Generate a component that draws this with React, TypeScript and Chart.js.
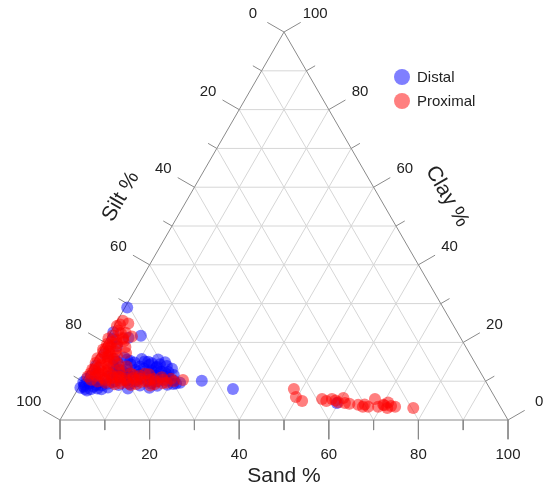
import React, { useEffect, useRef } from "react";
import { Chart, registerables } from "chart.js";
Chart.register(...registerables);

// Ternary composition data: silt % = 100 - sand % - clay %
const seriesNames = ["Distal", "Proximal"];
const seriesColors = ["rgba(0,0,255,0.5)", "rgba(255,0,0,0.5)"];

const distalSand = [
  0.5, 0.6, 4.7, 7.2, 1.3, 3.2,
  0.9, 1.6, 2.6, 0.6, 3.2, 2.2, 4.3, 1.2, 3.9, 5.3, 0.4,
  1.9, 0.3, 2.9, 3.6, 1.0, 4.8,
  4.2, 6.3, 8.1, 10.4, 12.2, 14.1, 16.0,
  4.8, 6.6, 8.7, 10.9, 12.8, 14.7, 16.9, 18.4,
  5.6, 7.4, 9.6, 11.5, 13.6, 15.4, 17.6,
  5.0, 7.9, 10.0, 12.6, 14.4, 16.2, 18.7, 20.3,
  6.1, 8.6, 10.9, 13.4, 15.6, 17.3, 19.4, 21.2,
  5.2, 7.2, 9.2, 11.4, 13.2, 15.1,
  6.0, 8.2, 10.4, 12.1, 14.0, 16.3, 18.0,
  6.8, 9.0, 11.8, 13.9, 15.7, 17.4, 19.6,
  7.3, 9.8, 12.0, 14.5, 16.8, 18.9, 20.6, 22.0,
  6.5, 11.1, 15.8, 14.8, 26.6, 34.6, 59.6, 1.0, 2.0, 1.5,
];
const distalClay = [
  29.0, 22.6, 21.2, 21.7, 20.9, 19.0,
  9.1, 8.0, 9.9, 10.6, 8.6, 7.6, 8.1, 11.4, 9.7, 7.9, 8.3,
  9.4, 9.8, 7.9, 9.0, 8.6, 8.9,
  15.8, 16.1, 15.2, 15.7, 15.0, 15.6, 14.9,
  14.1, 13.6, 14.3, 13.8, 14.2, 13.5, 13.9, 13.2,
  12.4, 12.8, 12.1, 12.6, 12.3, 12.7, 12.0,
  11.2, 10.9, 11.3, 10.8, 11.1, 10.7, 11.0, 10.2,
  9.4, 9.0, 9.3, 8.9, 9.4, 8.8, 9.1, 9.4,
  15.0, 15.6, 14.8, 15.1, 14.6, 14.4,
  13.0, 13.1, 12.9, 13.3, 12.8, 12.5, 12.4,
  11.6, 11.9, 11.7, 11.6, 11.5, 11.4, 11.6,
  10.0, 10.2, 9.9, 10.1, 9.9, 10.1, 9.3, 9.6,
  8.4, 8.1, 8.3, 13.7, 10.1, 8.0, 4.4, 14.0, 12.0, 17.0,
];

const proximalSand = [
  1.2, 0.6, 2.8, 1.5, 3.4, 0.9, 2.2, 4.1, 0.7, 1.8, 3.3, 5.2, 0.9, 2.6, 4.4,
  6.1, 1.4, 3.0, 4.9, 0.6, 2.1, 3.8, 5.9, 1.1, 2.9, 4.6, 6.8, 0.8, 2.3, 3.9,
  5.6, 7.5, 9.2, 1.7, 3.4, 5.1, 6.9, 8.4, 10.3, 11.8, 13.2, 14.9, 16.4, 18.1,
  12.1, 14.0, 9.8, 6.2, 4.2, 2.4, 1.0, 3.6, 7.6, 11.3, 15.7, 22.3, 17.2, 19.5,
  5.3, 8.0,
  0.3, 1.6, 2.9, 0.5, 2.0, 3.6, 1.2, 2.7, 3.9, 0.4, 1.9, 3.2, 0.7, 2.5, 4.0,
  1.4, 3.0, 0.6, 1.3, 2.4, 3.5, 1.1,
  4.6, 6.5, 8.0, 9.5, 11.0, 12.7, 14.3, 15.6, 17.8, 19.0, 20.4, 13.0, 10.6,
  7.2, 5.4, 8.9, 12.4, 16.5,
  48.2, 49.7, 51.6, 55.8, 57.0, 58.0, 59.8, 60.4, 61.4, 64.6, 65.9, 67.1,
  67.6, 69.3, 70.2, 71.5, 72.1, 73.1, 77.3, 59.0, 62.5, 66.0, 70.5, 71.0,
];
const proximalClay = [
  25.6, 24.2, 24.9, 23.1, 22.5, 21.8, 20.7, 20.2, 19.6, 18.9, 18.4, 18.8, 17.5, 17.1, 16.6,
  17.3, 16.0, 15.4, 15.0, 14.7, 14.2, 13.8, 14.4, 13.2, 12.6, 12.3, 12.9, 12.0, 11.4, 11.0,
  11.6, 11.2, 10.7, 10.4, 9.9, 10.2, 9.7, 10.1, 9.6, 10.3, 9.8, 10.4, 9.9, 9.5,
  11.4, 11.8, 12.0, 10.8, 13.2, 16.5, 18.4, 20.9, 9.2, 9.0, 8.9, 10.3, 11.0, 10.6,
  21.5, 13.8,
  21.0, 20.1, 19.7, 18.2, 17.8, 17.6, 15.5, 16.2, 15.8, 15.9, 13.5, 14.5, 13.0, 12.1, 12.6,
  12.8, 11.8, 11.2, 19.2, 22.4, 21.2, 24.6,
  10.6, 10.9, 11.0, 10.2, 10.8, 10.6, 9.9, 10.6, 10.4, 9.6, 10.0, 11.9, 11.6,
  12.2, 9.6, 9.4, 9.3, 9.2,
  8.0, 5.9, 4.9, 5.4, 4.9, 5.4, 4.6, 5.7, 4.4, 3.9, 3.4, 3.4,
  5.4, 3.4, 3.9, 3.1, 3.6, 3.4, 3.1, 5.0, 4.2, 4.0, 3.8, 4.5,
];

const gridSteps = [10, 20, 30, 40, 50, 60, 70, 80, 90];
const tickSteps = [0, 10, 20, 30, 40, 50, 60, 70, 80, 90, 100];
const labelValues = [0, 20, 40, 60, 80, 100];
const axisTitles = ["Sand %", "Silt %", "Clay %"];

const H = Math.sqrt(3) / 2;
const toXY = (sand: number, clay: number) => ({ x: sand + clay / 2, y: clay * H });

const FONT = "'Liberation Sans', Arial, Helvetica, sans-serif";

function seg(a: { x: number; y: number }, b: { x: number; y: number }, color: string, order: number) {
  return {
    type: "scatter" as const,
    data: [a, b],
    showLine: true,
    pointRadius: 0,
    pointHoverRadius: 0,
    borderColor: color,
    borderWidth: 1,
    fill: false,
    order,
  };
}

export default function App() {
  const ref = useRef<HTMLCanvasElement | null>(null);
  useEffect(() => {
    if (!ref.current) return;
    const datasets: any[] = [];
    const gridColor = "#d6d6d6";
    const tickColor = "#8a8a8a";
    gridSteps.forEach((k) => {
      datasets.push(seg(toXY(0, k), toXY(100 - k, k), gridColor, 10));
      datasets.push(seg(toXY(k, 0), toXY(k, 100 - k), gridColor, 10));
      datasets.push(seg(toXY(100 - k, 0), toXY(0, 100 - k), gridColor, 10));
    });
    datasets.push(seg(toXY(0, 0), toXY(100, 0), tickColor, 5));
    datasets.push(seg(toXY(100, 0), toXY(0, 100), tickColor, 5));
    datasets.push(seg(toXY(0, 100), toXY(0, 0), tickColor, 5));
    const major = 4.3;
    const minor = 2.25;
    tickSteps.forEach((v) => {
      const L = v % 20 === 0 ? major : minor;
      const b = toXY(v, 0);
      datasets.push(seg(b, { x: b.x, y: b.y - L }, tickColor, 5));
      const l = toXY(0, 100 - v);
      datasets.push(seg(l, { x: l.x - L * H, y: l.y + L * 0.5 }, tickColor, 5));
      const r = toXY(100 - v, v);
      datasets.push(seg(r, { x: r.x + L * H, y: r.y + L * 0.5 }, tickColor, 5));
    });
    datasets.push({
      label: seriesNames[1],
      data: proximalSand.map((s, i) => toXY(s, proximalClay[i])),
      backgroundColor: seriesColors[1],
      borderWidth: 0,
      pointRadius: 6,
      order: 1,
    });
    datasets.push({
      label: seriesNames[0],
      data: distalSand.map((s, i) => toXY(s, distalClay[i])),
      backgroundColor: seriesColors[0],
      borderWidth: 0,
      pointRadius: 6,
      order: 2,
    });

    const textPlugin = {
      id: "ternaryText",
      afterDraw(chart: any) {
        const ctx = chart.ctx as CanvasRenderingContext2D;
        const xs = chart.scales.x;
        const ys = chart.scales.y;
        const px = (sand: number, clay: number) => {
          const p = toXY(sand, clay);
          return [xs.getPixelForValue(p.x), ys.getPixelForValue(p.y)];
        };
        ctx.save();
        ctx.fillStyle = "#222";
        ctx.textAlign = "center";
        ctx.textBaseline = "middle";
        ctx.font = `15px ${FONT}`;
        const d = 36;
        labelValues.forEach((v) => {
          const [bx, by] = px(v, 0);
          ctx.fillText(String(v), bx, by + 35);
          const [lx, ly] = px(0, 100 - v);
          ctx.fillText(String(v), lx - d * H, ly - d * 0.5);
          const [rx, ry] = px(100 - v, v);
          ctx.fillText(String(v), rx + d * H, ry - d * 0.5);
        });
        ctx.font = `21px ${FONT}`;
        const [s0x, s0y] = px(50, 0);
        ctx.fillText(axisTitles[0], s0x, s0y + 56);
        const [lmx, lmy] = px(0, 50);
        const D = 59;
        ctx.save();
        ctx.translate(lmx - D * H, lmy - D * 0.5);
        ctx.rotate(-Math.PI / 3);
        ctx.fillText(axisTitles[1], 0, 0);
        ctx.restore();
        const [rmx, rmy] = px(50, 50);
        ctx.save();
        ctx.translate(rmx + D * H, rmy - D * 0.5);
        ctx.rotate(Math.PI / 3);
        ctx.fillText(axisTitles[2], 0, 0);
        ctx.restore();
        ctx.font = `15px ${FONT}`;
        ctx.textAlign = "left";
        seriesNames.forEach((name, i) => {
          const cy = 77 + i * 24;
          ctx.beginPath();
          ctx.arc(402, cy, 8, 0, Math.PI * 2);
          ctx.fillStyle = seriesColors[i];
          ctx.fill();
          ctx.fillStyle = "#222";
          ctx.fillText(name, 417, cy + 1);
        });
        ctx.restore();
      },
    };

    const chart = new Chart(ref.current, {
      type: "scatter",
      data: { datasets },
      options: {
        animation: false,
        responsive: false,
        devicePixelRatio: 1,
        events: [],
        layout: { padding: 0, autoPadding: false },
        plugins: { legend: { display: false }, tooltip: { enabled: false } },
        scales: {
          x: { type: "linear", min: -60 / 4.48, max: (544 - 60) / 4.48, display: false },
          y: { type: "linear", min: -(489 - 420) / 4.48, max: 420 / 4.48, display: false },
        },
      },
      plugins: [textPlugin],
    });
    return () => chart.destroy();
  }, []);
  return (
    <div style={{ position: "fixed", left: 0, top: 0, width: 544, height: 489, background: "#fff" }}>
      <canvas ref={ref} width={544} height={489} style={{ width: 544, height: 489, display: "block" }} />
    </div>
  );
}
